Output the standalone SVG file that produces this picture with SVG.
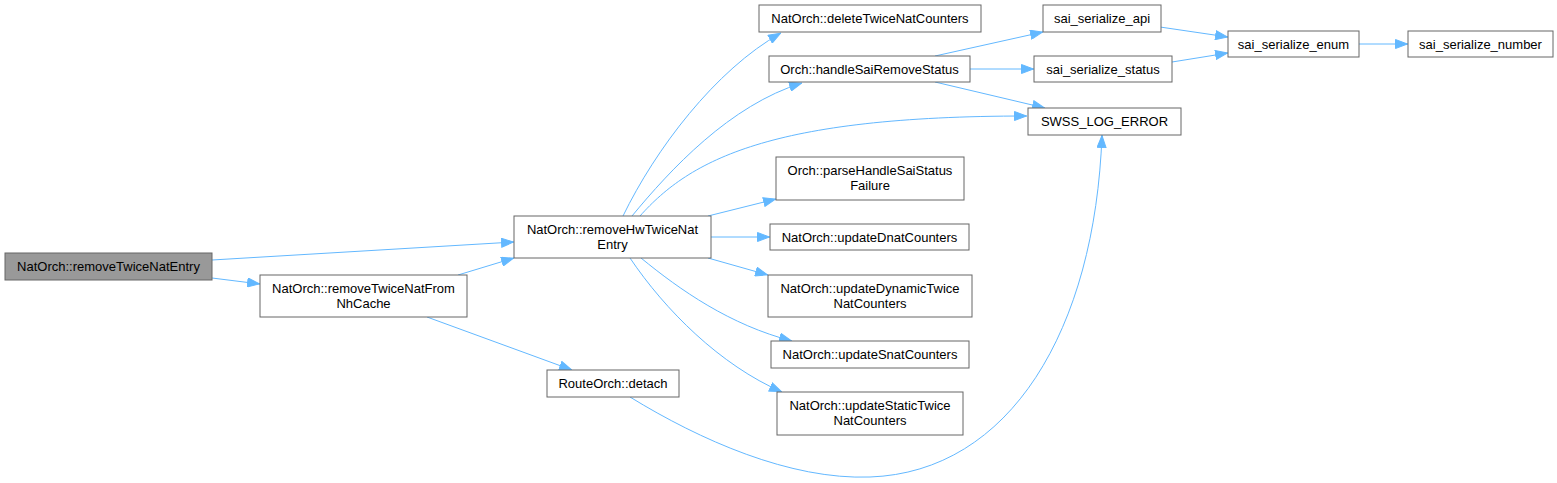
<svg xmlns="http://www.w3.org/2000/svg" width="1557" height="483" viewBox="0 0 1557 483">
<style>
.n rect{fill:#ffffff;stroke:#666666;stroke-width:1}
.root rect{fill:#999999}
text{font-family:"Liberation Sans",Arial,sans-serif;font-size:13px;fill:#000000;text-anchor:middle}
.e path{fill:none;stroke:#63b8ff;stroke-width:1;marker-end:url(#arr)}
</style>
<defs>
<marker id="arr" markerUnits="userSpaceOnUse" markerWidth="13" markerHeight="10" refX="13" refY="5" orient="auto">
<path d="M0.5,0.5 L12.5,5 L0.5,9.5 z" fill="#63b8ff" stroke="#63b8ff"/>
</marker>
</defs>
<g id="edges" class="e">
<path d="M212,260 L514,242"/>
<path d="M212,278 L260,284"/>
<path d="M458,275 L514,258"/>
<path d="M427,317 L572,370"/>
<path d="M630,397 C700,440 790,480 870,477 C1010,472 1095,330 1102,135"/>
<path d="M623,216 C655,150 715,70 781,33"/>
<path d="M632,216 C670,170 730,105 802,83"/>
<path d="M640,216 C690,160 770,116 1027,116"/>
<path d="M708,216 L776,199"/>
<path d="M711,237 L770,237"/>
<path d="M708,258 L768,275"/>
<path d="M641,258 C680,290 730,325 792,341"/>
<path d="M630,258 C665,310 720,365 782,392"/>
<path d="M935,56 L1043,32"/>
<path d="M970,69 L1034,69"/>
<path d="M935,82 L1045,108"/>
<path d="M1160,27 L1228,37"/>
<path d="M1172,62 L1228,53"/>
<path d="M1359,44 L1408,44"/>
</g>
<g id="removeTwiceNatEntry" class="n root"><rect x="5" y="253" width="207" height="27"/><text x="108.5" y="271">NatOrch::removeTwiceNatEntry</text></g>
<g id="removeTwiceNatFromNhCache" class="n"><rect x="260" y="275" width="207" height="42"/><text x="363.5" y="292.5">NatOrch::removeTwiceNatFrom</text><text x="363.5" y="307.5">NhCache</text></g>
<g id="removeHwTwiceNatEntry" class="n"><rect x="514" y="216" width="197" height="42"/><text x="612.5" y="233.5">NatOrch::removeHwTwiceNat</text><text x="612.5" y="248.5">Entry</text></g>
<g id="deleteTwiceNatCounters" class="n"><rect x="759" y="5" width="222" height="27"/><text x="870" y="23">NatOrch::deleteTwiceNatCounters</text></g>
<g id="handleSaiRemoveStatus" class="n"><rect x="769" y="56" width="201" height="26"/><text x="869.5" y="73.5">Orch::handleSaiRemoveStatus</text></g>
<g id="parseHandleSaiStatusFailure" class="n"><rect x="776" y="157" width="188" height="43"/><text x="870" y="175">Orch::parseHandleSaiStatus</text><text x="870" y="190">Failure</text></g>
<g id="updateDnatCounters" class="n"><rect x="770" y="224" width="199" height="26"/><text x="869.5" y="241.5">NatOrch::updateDnatCounters</text></g>
<g id="updateDynamicTwiceNatCounters" class="n"><rect x="768" y="275" width="204" height="42"/><text x="870" y="292.5">NatOrch::updateDynamicTwice</text><text x="870" y="307.5">NatCounters</text></g>
<g id="updateSnatCounters" class="n"><rect x="771" y="341" width="198" height="27"/><text x="870" y="359">NatOrch::updateSnatCounters</text></g>
<g id="updateStaticTwiceNatCounters" class="n"><rect x="777" y="392" width="186" height="43"/><text x="870" y="410">NatOrch::updateStaticTwice</text><text x="870" y="425">NatCounters</text></g>
<g id="detach" class="n"><rect x="547" y="370" width="132" height="27"/><text x="613" y="388">RouteOrch::detach</text></g>
<g id="sai_serialize_api" class="n"><rect x="1043" y="5" width="118" height="27"/><text x="1102" y="23">sai_serialize_api</text></g>
<g id="sai_serialize_status" class="n"><rect x="1034" y="56" width="138" height="26"/><text x="1103" y="73.5">sai_serialize_status</text></g>
<g id="SWSS_LOG_ERROR" class="n"><rect x="1028" y="108" width="153" height="27"/><text x="1104.5" y="126">SWSS_LOG_ERROR</text></g>
<g id="sai_serialize_enum" class="n"><rect x="1228" y="31" width="131" height="26"/><text x="1293.5" y="48.5">sai_serialize_enum</text></g>
<g id="sai_serialize_number" class="n"><rect x="1408" y="31" width="145" height="26"/><text x="1480.5" y="48.5">sai_serialize_number</text></g>
</svg>
